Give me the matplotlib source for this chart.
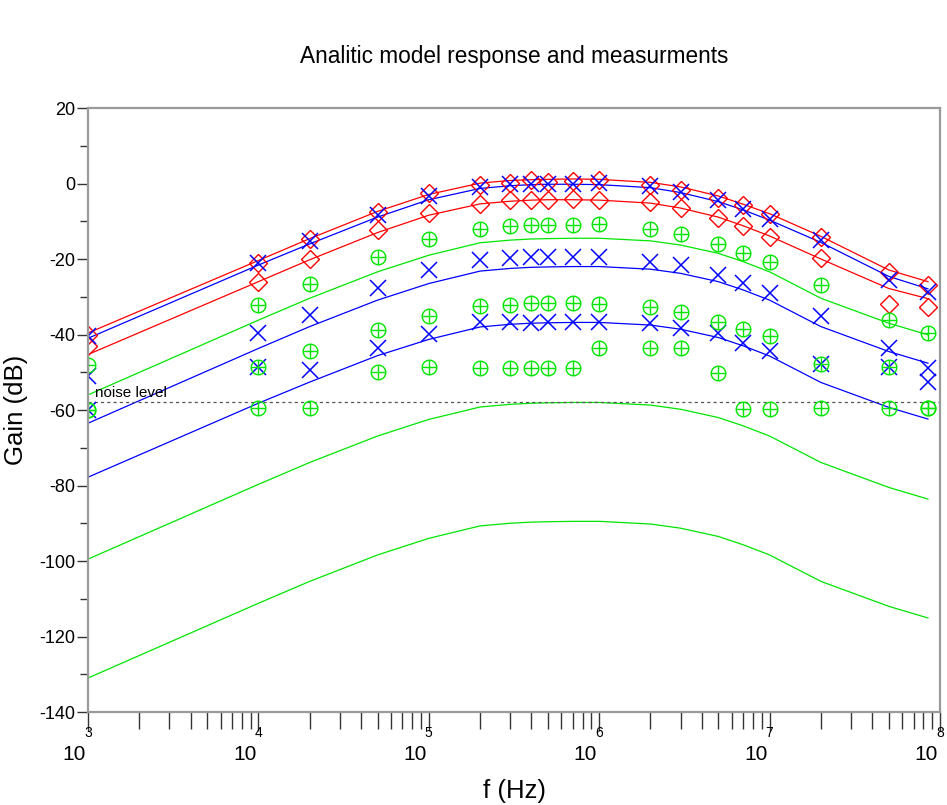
import matplotlib
matplotlib.use("Agg")
import matplotlib.pyplot as plt
import matplotlib.transforms as mtransforms
from matplotlib.ticker import LogLocator, MultipleLocator, NullFormatter

plt.rcParams['font.family'] = ['Liberation Sans', 'DejaVu Sans']
plt.rcParams['axes.unicode_minus'] = False

# measurement / model frequencies (Hz)
freq = [1e3, 1e4, 2e4, 5e4, 1e5, 2e5, 3e5, 4e5, 5e5, 7e5, 1e6,
        2e6, 3e6, 5e6, 7e6, 1e7, 2e7, 5e7, 8.5e7]

# analytic model curves (dB)
model_red_1 = [-39.6, -20.4, -14.6, -7.4, -2.9, 0.1, 0.8, 1.0, 1.1, 1.2, 1.1,
               0.3, -0.9, -3.3, -5.5, -8.0, -14.0, -22.9, -26.0]
model_red_2 = [-45.3, -26.0, -20.2, -13.0, -8.4, -5.4, -4.7, -4.4, -4.3, -4.3, -4.4,
               -5.2, -6.5, -8.9, -11.2, -13.9, -20.0, -27.8, -30.5]
model_blue_1 = [-41.0, -21.6, -16.0, -8.9, -4.3, -1.3, -0.6, -0.3, -0.2, -0.2, -0.3,
                -1.1, -2.4, -4.8, -7.0, -9.7, -15.6, -24.6, -27.9]
model_blue_2 = [-63.5, -43.7, -37.9, -30.9, -26.5, -23.2, -22.5, -22.2, -22.1, -22.0, -22.0,
                -22.7, -23.8, -26.0, -28.2, -30.9, -37.9, -44.5, -47.6]
model_blue_3 = [-77.8, -58.2, -52.6, -45.6, -41.3, -38.0, -37.3, -37.0, -36.9, -36.8, -36.8,
                -37.5, -38.6, -40.8, -43.0, -45.7, -52.7, -59.3, -62.4]
model_green_1 = [-56.0, -36.2, -30.4, -23.4, -19.0, -15.7, -15.0, -14.7, -14.6, -14.5, -14.5,
                 -15.2, -16.3, -18.5, -20.7, -23.4, -30.4, -37.0, -40.1]
model_green_2 = [-99.5, -79.7, -73.9, -66.9, -62.5, -59.2, -58.5, -58.2, -58.1, -58.0, -58.0,
                 -58.7, -59.8, -62.0, -64.2, -66.9, -73.9, -80.5, -83.6]
model_green_3 = [-131.0, -111.2, -105.4, -98.4, -94.0, -90.7, -90.0, -89.7, -89.6, -89.5, -89.5,
                 -90.2, -91.3, -93.5, -95.7, -98.4, -105.4, -112.0, -115.1]

# measurements (dB)
meas_red_1 = [-40.0, -21.0, -14.8, -7.5, -2.6, -0.4, 0.2, 0.9, 0.5, 0.7, 0.9,
              -0.3, -1.7, -3.8, -5.7, -8.1, -14.3, -23.4, -26.9]
meas_red_2 = [-43.0, -26.0, -20.0, -12.3, -7.9, -5.3, -4.5, -4.4, -4.4, -4.2, -4.4,
              -5.0, -6.6, -9.2, -11.3, -14.3, -19.8, -31.9, -32.8]
meas_blue_1 = [-40.5, -21.0, -15.2, -8.3, -3.3, -0.8, -0.1, -0.1, -0.1, 0.0, 0.2,
               -0.7, -2.2, -4.5, -6.8, -9.5, -15.0, -25.6, -28.7]
meas_blue_2 = [-51.0, -39.7, -34.8, -27.6, -22.9, -20.3, -19.8, -19.6, -19.6, -19.4, -19.4,
               -20.7, -21.6, -24.2, -26.4, -29.1, -35.1, -43.7, -49.0]
meas_blue_3 = [-60.0, -48.5, -49.4, -43.7, -39.9, -36.6, -36.6, -37.0, -36.8, -36.8, -36.8,
               -37.0, -38.4, -39.7, -42.2, -44.5, -47.8, -48.7, -52.5]
meas_green_1 = [-48.0, -32.2, -26.6, -19.6, -14.7, -12.0, -11.3, -11.0, -11.0, -11.0, -10.7,
                -12.1, -13.4, -15.9, -18.3, -20.9, -26.9, -36.2, -39.7]
meas_green_2 = [-60.0, -48.5, -44.5, -38.8, -35.0, -32.4, -32.2, -31.7, -31.7, -31.7, -31.9,
                -32.6, -34.1, -36.6, -38.6, -40.3, -47.8, -48.7, -59.6]
meas_green_3 = [-60.0, -59.6, -59.6, -50.0, -48.5, -48.8, -48.8, -48.8, -48.8, -48.8, -43.5,
                -43.5, -43.7, -50.3, -59.8, -59.8, -59.6, -59.6, -59.6]

noise_level = -58
decades = [3, 4, 5, 6, 7, 8]

RED = '#ff0000'
BLUE = '#0000ff'
GREEN = '#00e600'

fig = plt.figure(figsize=(9.47, 8.05), dpi=100)
ax = fig.add_axes([88 / 947, 1 - 712 / 805, (940 - 88) / 947, (712 - 108) / 805])

lw = 0.9
for m, c in [(model_red_1, RED), (model_red_2, RED),
             (model_blue_1, BLUE), (model_blue_2, BLUE), (model_blue_3, BLUE),
             (model_green_1, GREEN), (model_green_2, GREEN), (model_green_3, GREEN)]:
    ax.plot(freq, m, color=c, lw=lw)

ax.axhline(noise_level, color='#555555', lw=0.9, ls=(0, (2.5, 2.5)))
ax.text(1.1e3, noise_level + 0.6, 'noise level', fontsize=11, va='bottom', ha='left')

for s in [meas_red_1, meas_red_2]:
    ax.plot(freq, s, ls='none', marker='D', ms=8.8, mfc='none', mec=RED, mew=1.0)
for s in [meas_blue_1, meas_blue_2, meas_blue_3]:
    ax.plot(freq, s, ls='none', marker='x', ms=12, mec=BLUE, mew=1.1)
for s in [meas_green_1, meas_green_2, meas_green_3]:
    ax.plot(freq, s, ls='none', marker='o', ms=10.5, mfc='none', mec=GREEN, mew=1.0)
    ax.plot(freq, s, ls='none', marker='+', ms=10.5, mec=GREEN, mew=1.0)

ax.set_xscale('log')
ax.set_xlim(1e3, 1e8)
ax.set_ylim(-140, 20)

ax.yaxis.set_major_locator(MultipleLocator(20))
ax.yaxis.set_minor_locator(MultipleLocator(10))
ax.xaxis.set_minor_locator(LogLocator(base=10, subs=range(2, 10), numticks=20))
ax.xaxis.set_minor_formatter(NullFormatter())
ax.xaxis.set_ticks([10.0 ** d for d in decades])
ax.set_xticklabels([''] * len(decades))

for sp in ax.spines.values():
    sp.set_color('#9a9a9a')
    sp.set_linewidth(1.6)

ax.tick_params(axis='y', which='major', direction='out', length=8, width=1.0,
               color='#333333', labelsize=13, pad=1)
ax.tick_params(axis='y', which='minor', direction='out', length=6, width=1.0, color='#333333')
ax.tick_params(axis='x', which='major', direction='out', length=14, width=1.0, color='#333333')
ax.tick_params(axis='x', which='minor', direction='out', length=12, width=1.0, color='#333333')

trans = ax.get_xaxis_transform()
for d in decades:
    base = mtransforms.offset_copy(trans, fig=fig, x=-2, y=-52, units='dots')
    ax.text(10.0 ** d, 0, '10', transform=base, ha='right', va='bottom', fontsize=15)
    expo = mtransforms.offset_copy(trans, fig=fig, x=0, y=-28, units='dots')
    ax.text(10.0 ** d, 0, str(d), transform=expo, ha='center', va='bottom', fontsize=10)

fig.text(514 / 947, 1 - 56 / 805, 'Analitic model response and measurments',
         ha='center', va='center', fontsize=16.3)
fig.text(514 / 947, 1 - 791 / 805, 'f (Hz)', ha='center', va='center', fontsize=18.5)
fig.text(16 / 947, 1 - 410 / 805, 'Gain (dB)', ha='center', va='center',
         rotation=90, fontsize=18.5)

fig.savefig('out.png', dpi=100)
